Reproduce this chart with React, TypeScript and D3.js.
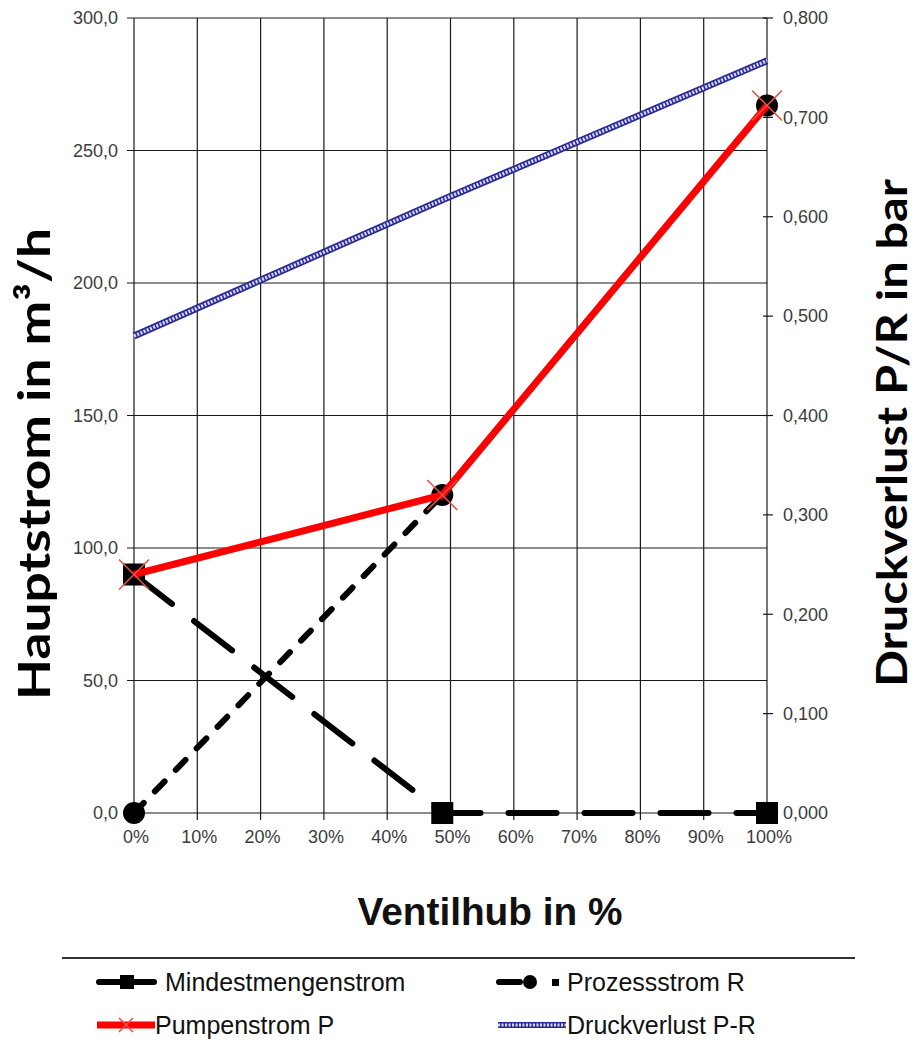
import React from 'react';
import * as d3 from 'd3';

// Ventilhub positions (%) of the three measured points
const hub = [0, 48.7, 100];

// Series on the left axis (m³/h)
const mindestmengenstrom = [90, 0, 0];
const prozessstrom = [0, 120, 267];
const pumpenstrom = [90, 120, 267];
// Series on the right axis (bar)
const druckverlust = [0.48, 0.617, 0.757];

const xTicks = [0, 10, 20, 30, 40, 50, 60, 70, 80, 90, 100];
const leftTicks = [0, 50, 100, 150, 200, 250, 300];
const rightTicks = [0, 0.1, 0.2, 0.3, 0.4, 0.5, 0.6, 0.7, 0.8];

const W = 918;
const H = 1050;
const plot = { left: 134, right: 767, top: 18, bottom: 813 };

const tickFont = 'Liberation Sans, Arial, sans-serif';
const titleFont = 'Lato, "Open Sans", sans-serif';

const Star: React.FC<{ x: number; y: number; s?: number }> = ({ x, y, s = 15 }) => (
  <g stroke="#e8504a" strokeWidth={1.6}>
    <line x1={x - s} y1={y - s} x2={x + s} y2={y + s} />
    <line x1={x - s} y1={y + s} x2={x + s} y2={y - s} />
  </g>
);

const App: React.FC = () => {
  const x = d3.scaleLinear().domain([0, 100]).range([plot.left, plot.right]);
  const yL = d3.scaleLinear().domain([0, 300]).range([plot.bottom, plot.top]);
  const yR = d3.scaleLinear().domain([0, 0.8]).range([plot.bottom, plot.top]);

  const lineL = d3.line<number>().x((_, i) => x(hub[i])).y(d => yL(d));
  const lineR = d3.line<number>().x((_, i) => x(hub[i])).y(d => yR(d));

  const fmtL = (v: number) => v.toFixed(1).replace('.', ',');
  const fmtR = (v: number) => v.toFixed(3).replace('.', ',');

  return (
    <svg width={W} height={H} style={{ position: 'absolute', left: 0, top: 0, background: '#fff' }}>
      {/* grid */}
      <g stroke="#1a1a1a" strokeWidth={1.2}>
        {xTicks.map(t => (
          <line key={'gx' + t} x1={x(t)} x2={x(t)} y1={plot.top} y2={plot.bottom + 7} />
        ))}
        {leftTicks.map(t => (
          <line key={'gy' + t} x1={plot.left - 7} x2={plot.right} y1={yL(t)} y2={yL(t)} />
        ))}
        {rightTicks.map(t => (
          <line key={'gr' + t} x1={plot.right - 4} x2={plot.right + 6} y1={yR(t)} y2={yR(t)} />
        ))}
      </g>

      {/* tick labels */}
      <g fontFamily={tickFont} fontSize={18} fill="#3c3c3c">
        {leftTicks.map(t => (
          <text key={'tl' + t} x={plot.left - 16} y={yL(t)} dy="0.35em" textAnchor="end">{fmtL(t)}</text>
        ))}
        {rightTicks.map(t => (
          <text key={'tr' + t} x={plot.right + 16} y={yR(t)} dy="0.35em">{fmtR(t)}</text>
        ))}
        {xTicks.map(t => (
          <text key={'tx' + t} x={x(t) + 2} y={843} textAnchor="middle">{t}%</text>
        ))}
      </g>

      {/* Druckverlust P-R */}
      <path d={lineR(druckverlust) ?? ''} fill="none" stroke="#2a2a96" strokeWidth={7} />
      <path d={lineR(druckverlust) ?? ''} fill="none" stroke="#d8d8f4" strokeWidth={3.5} strokeDasharray="2 1.5" />

      {/* Mindestmengenstrom */}
      <path d={lineL(mindestmengenstrom) ?? ''} fill="none" stroke="#000" strokeWidth={6}
        strokeDasharray="48 28" strokeLinecap="round" />
      {mindestmengenstrom.map((v, i) => (
        <rect key={'sq' + i} x={x(hub[i]) - 11} y={yL(v) - 11} width={22} height={22} fill="#000" />
      ))}

      {/* Prozessstrom R */}
      <path d={lineL(prozessstrom) ?? ''} fill="none" stroke="#000" strokeWidth={6}
        strokeDasharray="14 16" strokeLinecap="round" />
      {prozessstrom.map((v, i) => (
        <circle key={'ci' + i} cx={x(hub[i])} cy={yL(v)} r={11} fill="#000" />
      ))}

      {/* Pumpenstrom P */}
      <path d={lineL(pumpenstrom) ?? ''} fill="none" stroke="#ff0000" strokeWidth={7} strokeLinejoin="round" />
      {pumpenstrom.map((v, i) => (
        <Star key={'st' + i} x={x(hub[i])} y={yL(v)} />
      ))}

      {/* axis titles */}
      <text transform="translate(50,464) rotate(-90)" textAnchor="middle" fontFamily={titleFont}
        fontWeight={700} fontSize={44} fill="#000" textLength={472} lengthAdjust="spacingAndGlyphs">
        Hauptstrom in m³/h
      </text>
      <text transform="translate(907,433) rotate(-90)" textAnchor="middle" fontFamily={titleFont}
        fontWeight={700} fontSize={42} fill="#000" textLength={508} lengthAdjust="spacingAndGlyphs">
        Druckverlust P/R in bar
      </text>
      <text x={490} y={925} textAnchor="middle" fontFamily={tickFont} fontWeight={700} fontSize={38}
        fill="#111" textLength={265} lengthAdjust="spacingAndGlyphs">
        Ventilhub in %
      </text>

      {/* legend */}
      <line x1={62} x2={855} y1={958} y2={958} stroke="#333" strokeWidth={2} />
      <g fontFamily={tickFont} fontSize={25} fill="#111">
        <line x1={99} x2={154} y1={982} y2={982} stroke="#000" strokeWidth={6} strokeLinecap="round" />
        <rect x={120} y={975} width={14} height={14} fill="#000" />
        <text x={165} y={982} dy="0.35em">Mindestmengenstrom</text>

        <line x1={499} x2={520} y1={982} y2={982} stroke="#000" strokeWidth={6} strokeLinecap="round" />
        <circle cx={530} cy={982} r={7} fill="#000" />
        <rect x={552} y={979} width={7} height={7} fill="#000" />
        <text x={567} y={982} dy="0.35em">Prozessstrom R</text>

        <line x1={97} x2={155} y1={1025} y2={1025} stroke="#ff0000" strokeWidth={7} />
        <Star x={126} y={1025} s={7} />
        <text x={155} y={1025} dy="0.35em">Pumpenstrom P</text>

        <line x1={498} x2={566} y1={1025} y2={1025} stroke="#2a2a96" strokeWidth={6} />
        <line x1={498} x2={566} y1={1025} y2={1025} stroke="#d8d8f4" strokeWidth={3} strokeDasharray="2 1.5" />
        <text x={567} y={1025} dy="0.35em">Druckverlust P-R</text>
      </g>
    </svg>
  );
};

export default App;
